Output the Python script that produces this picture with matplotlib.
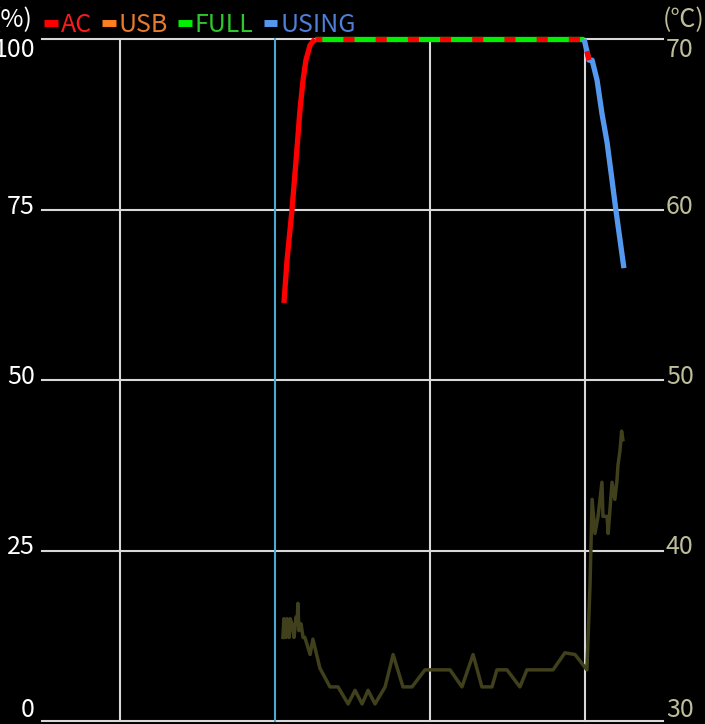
import numpy as np
import matplotlib
matplotlib.use('Agg')
import matplotlib.pyplot as plt
from matplotlib.lines import Line2D
from matplotlib.transforms import offset_copy

plt.rcParams['font.family'] = ['Noto Sans CJK JP', 'DejaVu Sans']

# battery level (%) vs hour of day
ac_hours = [9.35, 9.47, 9.66, 9.82, 9.97, 10.09, 10.20, 10.36, 10.55]
ac_level = [61.3, 67.6, 74.9, 82.3, 89.6, 94.0, 96.9, 99.1, 100.0]
full_hours = [10.55, 20.95]
full_level = [100.0, 100.0]
ac2_hours = [21.06, 21.14]
ac2_level = [98.2, 96.9]
using_hours = [20.95, 21.06, 21.14, 21.26, 21.45, 21.64, 21.84, 22.03, 22.18, 22.34, 22.49]
using_level = [100.0, 98.2, 96.9, 96.9, 94.0, 89.1, 84.8, 79.3, 74.9, 70.5, 66.4]

# temperature (deg C)
temp_hours = [9.31, 9.35, 9.43, 9.47, 9.55, 9.59, 9.66, 9.74, 9.82, 9.86, 9.89, 9.93,
              10.01, 10.09, 10.16, 10.36, 10.47, 10.74, 11.13, 11.44, 11.83, 12.10,
              12.37, 12.60, 12.87, 13.26, 13.57, 13.95, 14.30, 14.80, 15.77, 16.23,
              16.66, 17.00, 17.39, 17.58, 17.97, 18.47, 18.74, 19.75, 20.21, 20.60,
              21.06, 21.18, 21.26, 21.37, 21.49, 21.64, 21.68, 21.84, 21.88, 22.03,
              22.14, 22.22, 22.26, 22.34, 22.40, 22.45]
temp_vals = [34.9, 36.0, 34.9, 36.0, 34.9, 36.0, 35.7, 34.9, 36.1, 35.7, 36.9, 35.3,
             35.7, 34.9, 34.9, 33.9, 34.8, 33.1, 32.0, 32.0, 31.0, 31.8,
             31.0, 31.8, 31.0, 32.0, 33.9, 32.0, 32.0, 33.0, 33.0, 32.0,
             33.9, 32.0, 32.0, 33.0, 33.0, 32.0, 33.0, 33.0, 34.0, 33.9,
             33.0, 38.0, 43.0, 41.0, 42.0, 44.0, 42.0, 42.0, 41.0, 44.0,
             43.0, 44.1, 45.0, 45.9, 47.0, 46.5]

pct_ticks = [0, 25, 50, 75, 100]
temp_ticks = [30, 40, 50, 60, 70]
hour_grid = [3, 9, 15, 21]
now_hour = 9

legend_names = ['AC', 'USB', 'FULL', 'USING']
legend_line_colors = ['#ff0000', '#ff7f1e', '#00f000', '#5599ee']
legend_text_colors = ['#ff1a1a', '#e87a2c', '#2cc82c', '#4f7fd8']

fig = plt.figure(figsize=(7.05, 7.24), dpi=100, facecolor='black')
ax = fig.add_axes([42 / 705, 3 / 724, 621 / 705, 682 / 724])
ax.set_facecolor('black')
ax.set_xlim(0, 24)
ax.set_ylim(0, 100)
for s in ax.spines.values():
    s.set_visible(False)
ax.set_xticks([])
ax.set_yticks([])

grid_kw = dict(color='#d8d8d8', lw=1.5, clip_on=False, zorder=1)
for v in pct_ticks:
    ax.axhline(v, **grid_kw)
for h in hour_grid:
    if h == now_hour:
        ax.axvline(h, color='#4aaad2', lw=1.5, clip_on=False, zorder=1)
    else:
        ax.axvline(h, **grid_kw)

ax2 = ax.twinx()
ax2.set_ylim(30, 70)
ax2.set_yticks([])
for s in ax2.spines.values():
    s.set_visible(False)
ax2.plot(temp_hours, temp_vals, color='#40401d', lw=2.5, zorder=2)

# battery lines on a third axes sharing the percent scale
lw = 3.8
bat = ax2.twinx()
bat.set_ylim(0, 100)
bat.set_yticks([])
for s in bat.spines.values():
    s.set_visible(False)
line_kw = dict(lw=lw, solid_capstyle='butt', clip_on=False)
bat.plot(ac_hours, ac_level, color='#ff0000', **line_kw)
bat.plot(full_hours, full_level, color='#00f000', **line_kw)
bat.plot(full_hours, full_level, color='#ff0000', lw=lw, clip_on=False,
         linestyle=(0.8, (2.1, 4.0)), dash_capstyle='butt')
bat.plot(using_hours, using_level, color='#5599ee', **line_kw)
bat.plot(ac2_hours, ac2_level, color='#ff0000', **line_kw)

fs = 18
ltr = offset_copy(ax.get_yaxis_transform(), fig=fig, x=-7, y=0, units='dots')
for v in pct_ticks:
    if v == 100:
        va, dy = 'top', 2
    elif v == 0:
        va, dy = 'bottom', -2
    else:
        va, dy = 'center', 3
    t = offset_copy(ltr, fig=fig, y=dy, units='dots')
    ax.text(0, v, str(v), transform=t, ha='right', va=va, color='white', fontsize=fs)

rtr = offset_copy(ax2.get_yaxis_transform(), fig=fig, x=3, y=0, units='dots')
for v in temp_ticks:
    if v == 70:
        va, dy = 'top', 2
    elif v == 30:
        va, dy = 'bottom', -2
    else:
        va, dy = 'center', 3
    t = offset_copy(rtr, fig=fig, y=dy, units='dots')
    ax2.text(1, v, str(v), transform=t, ha='left', va=va, color='#bdbd9a', fontsize=fs)

fig.text(33 / 705, 1 - 20 / 724, '(%)', ha='right', va='center', color='white', fontsize=fs)
fig.text(663 / 705, 1 - 20 / 724, '(℃)', ha='left', va='center', color='#bdbd9a', fontsize=fs)

handles = [Line2D([], [], color=c, lw=5, solid_capstyle='butt') for c in legend_line_colors]
leg = fig.legend(handles, legend_names, loc='center left',
                 bbox_to_anchor=(44 / 705, 1 - 25 / 724), ncol=4, frameon=False,
                 fontsize=fs, handlelength=0.55, handletextpad=0.12,
                 columnspacing=0.4, borderpad=0, borderaxespad=0)
for txt, c in zip(leg.get_texts(), legend_text_colors):
    txt.set_color(c)

fig.savefig('out.png', dpi=100, facecolor='black')
